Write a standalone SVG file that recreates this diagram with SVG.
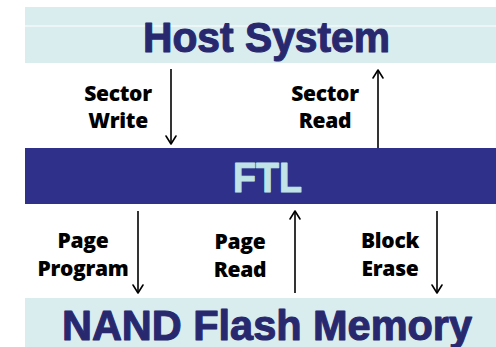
<svg xmlns="http://www.w3.org/2000/svg" width="496" height="347" viewBox="0 0 496 347">
  <defs>
    <style>
      .band-light { fill: #d9edef; }
      .band-dark { fill: #2e3089; }
      .title { font-family: "Liberation Sans", Arial, sans-serif; font-weight: bold; font-size: 42px; text-anchor: middle; fill: #28286f; stroke: #28286f; stroke-width: 1.1; stroke-linejoin: round; }
      .ftl { fill: #bfe3e6; stroke: #bfe3e6; }
      .label { font-family: "Open Sans", "Noto Sans", sans-serif; font-weight: 800; font-size: 21px; text-anchor: middle; fill: #000; letter-spacing: -0.3px; }
      .arrow { stroke: #000; stroke-width: 1.6; fill: none; }
      .head { stroke: #000; stroke-width: 1.6; fill: none; stroke-linecap: round; stroke-linejoin: round; }
    </style>
  </defs>

  <rect width="496" height="347" fill="#ffffff"/>

  <g id="host">
    <rect class="band-light" x="25" y="7" width="471" height="56"/>
    <line x1="25" y1="26" x2="496" y2="26" stroke="#ffffff" stroke-width="1"/>
    <text class="title" x="266.5" y="52" textLength="247" lengthAdjust="spacingAndGlyphs">Host System</text>
  </g>

  <g id="ftl">
    <rect class="band-dark" x="25" y="148" width="471" height="56"/>
    <text class="title ftl" x="267.5" y="192" textLength="69" lengthAdjust="spacingAndGlyphs">FTL</text>
  </g>

  <g id="nand">
    <rect class="band-light" x="25" y="298" width="471" height="49"/>
    <text class="title" x="267" y="340" textLength="410" lengthAdjust="spacingAndGlyphs">NAND Flash Memory</text>
  </g>

  <g id="connectors">
    <!-- Sector Write: host to FTL -->
    <line class="arrow" x1="171" y1="69" x2="171" y2="144"/>
    <polyline class="head" points="166,136 171,144 176,136"/>
    <!-- Sector Read: FTL to host -->
    <line class="arrow" x1="378" y1="148" x2="378" y2="70"/>
    <polyline class="head" points="373,78 378,70 383,78"/>
    <!-- Page Program: FTL to NAND -->
    <line class="arrow" x1="138" y1="211" x2="138" y2="293"/>
    <polyline class="head" points="133,285 138,293 143,285"/>
    <!-- Page Read: NAND to FTL -->
    <line class="arrow" x1="295" y1="293" x2="295" y2="211"/>
    <polyline class="head" points="290,219 295,211 300,219"/>
    <!-- Block Erase: FTL to NAND -->
    <line class="arrow" x1="437" y1="211" x2="437" y2="293"/>
    <polyline class="head" points="432,285 437,293 442,285"/>
  </g>

  <g id="labels">
    <text class="label" x="118" y="101">Sector</text>
    <text class="label" x="118" y="128">Write</text>
    <text class="label" x="325" y="101">Sector</text>
    <text class="label" x="325" y="128">Read</text>
    <text class="label" x="83" y="248">Page</text>
    <text class="label" x="83" y="276">Program</text>
    <text class="label" x="240" y="249">Page</text>
    <text class="label" x="240" y="277">Read</text>
    <text class="label" x="390" y="248">Block</text>
    <text class="label" x="390" y="276">Erase</text>
  </g>
</svg>
